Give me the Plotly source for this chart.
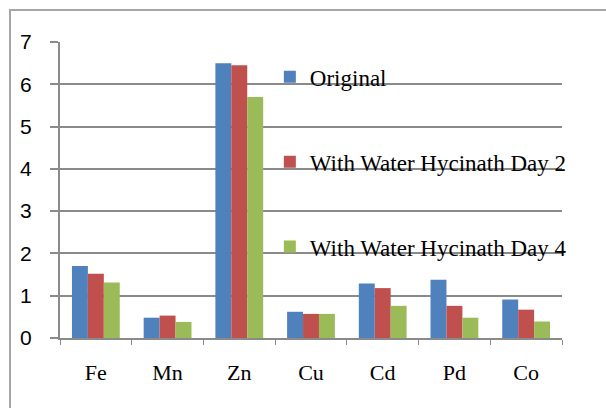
import plotly.graph_objects as go

# Metal concentrations before and after treatment with water hyacinth
metals = ["Fe", "Mn", "Zn", "Cu", "Cd", "Pd", "Co"]
original = [1.70, 0.48, 6.50, 0.62, 1.29, 1.38, 0.91]
day2 = [1.52, 0.53, 6.45, 0.57, 1.18, 0.76, 0.67]
day4 = [1.31, 0.38, 5.70, 0.57, 0.76, 0.48, 0.39]
y_ticks = [0, 1, 2, 3, 4, 5, 6, 7]

series = [
    ("Original", original, "#4F81BD"),
    ("With Water Hycinath Day 2", day2, "#C0504D"),
    ("With Water Hycinath Day 4", day4, "#9BBB59"),
]

fig = go.Figure()
for name, vals, color in series:
    fig.add_trace(go.Bar(
        x=metals, y=vals, name=name, legendgroup=name,
        marker=dict(color=color, line=dict(width=0)),
    ))

serif = "Liberation Serif, Times New Roman, serif"
grid = "#8a8a8a"

fig.update_layout(
    width=606, height=408,
    margin=dict(l=60, r=44, t=42, b=70),
    paper_bgcolor="white", plot_bgcolor="white",
    barmode="group", bargap=1/3, bargroupgap=0,
    showlegend=True,
    legend=dict(
        x=0.418, y=0.955, xanchor="left", yanchor="top",
        bgcolor="rgba(0,0,0,0)", borderwidth=0,
        font=dict(family=serif, size=23, color="black"),
        tracegroupgap=52, traceorder="grouped",
        itemclick=False,
    ),
    xaxis=dict(
        type="category", tickson="boundaries", ticks="outside", ticklen=5,
        tickcolor=grid, showline=True, linecolor=grid, linewidth=2,
        showgrid=False, tickfont=dict(family=serif, size=22, color="black"),
        ticklabelstandoff=14,
    ),
    yaxis=dict(
        range=[0, 7], tickvals=y_ticks, ticks="outside", ticklen=8,
        tickcolor=grid, tickwidth=2, showline=True, linecolor=grid, linewidth=2,
        showgrid=True, gridcolor=grid, gridwidth=2, zeroline=False,
        tickfont=dict(family="Liberation Sans, Arial, sans-serif", size=21, color="black"),
        ticklabelstandoff=14,
    ),
    shapes=[dict(
        type="rect", xref="paper", yref="paper",
        x0=-0.0996, x1=1.2, y0=-0.4, y1=1.108,
        line=dict(color="#a6a6a6", width=2), fillcolor="rgba(0,0,0,0)",
        layer="below",
    )],
)

fig.write_html("out.html")
